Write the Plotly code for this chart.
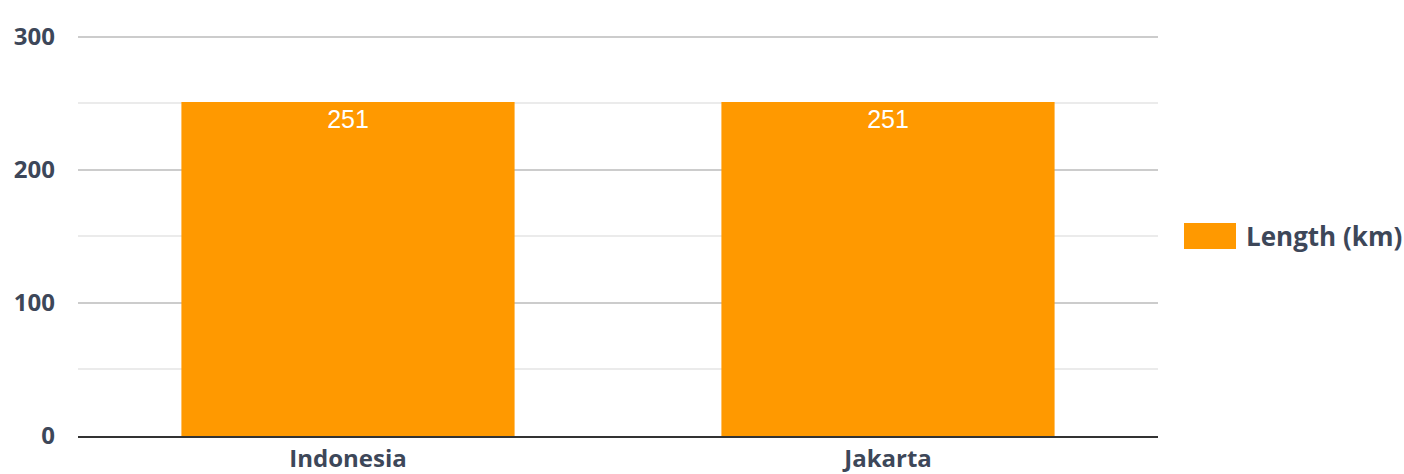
import plotly.graph_objects as go

categories = ["Indonesia", "Jakarta"]
lengths_km = [251, 251]
series_name = "Length (km)"
y_ticks = [0, 100, 200, 300]

BAR = "#FF9900"
TXT = "#3d4759"
FONT = "Open Sans"

T, B = 30, 38
YMAX = 305
PH = 474 - T - B

fig = go.Figure()
fig.add_trace(go.Bar(
    x=categories, y=lengths_km, name=series_name,
    marker=dict(color=BAR, line=dict(width=0)),
    text=[str(v) for v in lengths_km],
    textposition="inside", insidetextanchor="end",
    textfont=dict(family="Liberation Sans, Arial", size=25, color="white"),
    textangle=0,
    showlegend=False,
))

fig.update_layout(
    width=1404, height=474,
    margin=dict(l=78, r=246, t=T, b=B),
    paper_bgcolor="white", plot_bgcolor="white",
    bargap=0.383,
    font=dict(family=FONT, color=TXT),
    xaxis=dict(
        automargin=False,
        showgrid=False, showline=True, linecolor="#333333", linewidth=2,
        tickfont=dict(family=FONT, size=24, color=TXT, weight="bold"),
        ticks="", ticklabelstandoff=0,
    ),
    yaxis=dict(
        automargin=False,
        range=[0, YMAX], tickvals=y_ticks,
        showgrid=True, gridcolor="#cccccc", gridwidth=1.5,
        minor=dict(tickvals=[50, 150, 250], showgrid=True, gridcolor="#ebebeb", gridwidth=1.5),
        zeroline=False, showline=False,
        tickfont=dict(family=FONT, size=24, color=TXT, weight="bold"),
        ticks="", ticklabelstandoff=22,
    ),
    uniformtext=dict(minsize=8, mode="show"),
)

# legend swatch and label drawn at the right
fig.add_shape(type="rect", xref="paper", yref="paper",
              x0=(1184 - 78) / 1080, x1=(1236 - 78) / 1080,
              y0=(474 - B - 249) / PH, y1=(474 - B - 223) / PH,
              fillcolor=BAR, line=dict(width=0))
fig.add_annotation(xref="paper", yref="paper",
                   x=(1244 - 78) / 1080, y=(474 - B - 236) / PH,
                   xanchor="left", yanchor="middle", showarrow=False,
                   text="<b>" + series_name + "</b>",
                   font=dict(family=FONT, size=26, color=TXT))

fig.write_html("out.html", config={"displayModeBar": False},
               post_script="document.body.style.margin='0';document.body.style.overflow='hidden';")
